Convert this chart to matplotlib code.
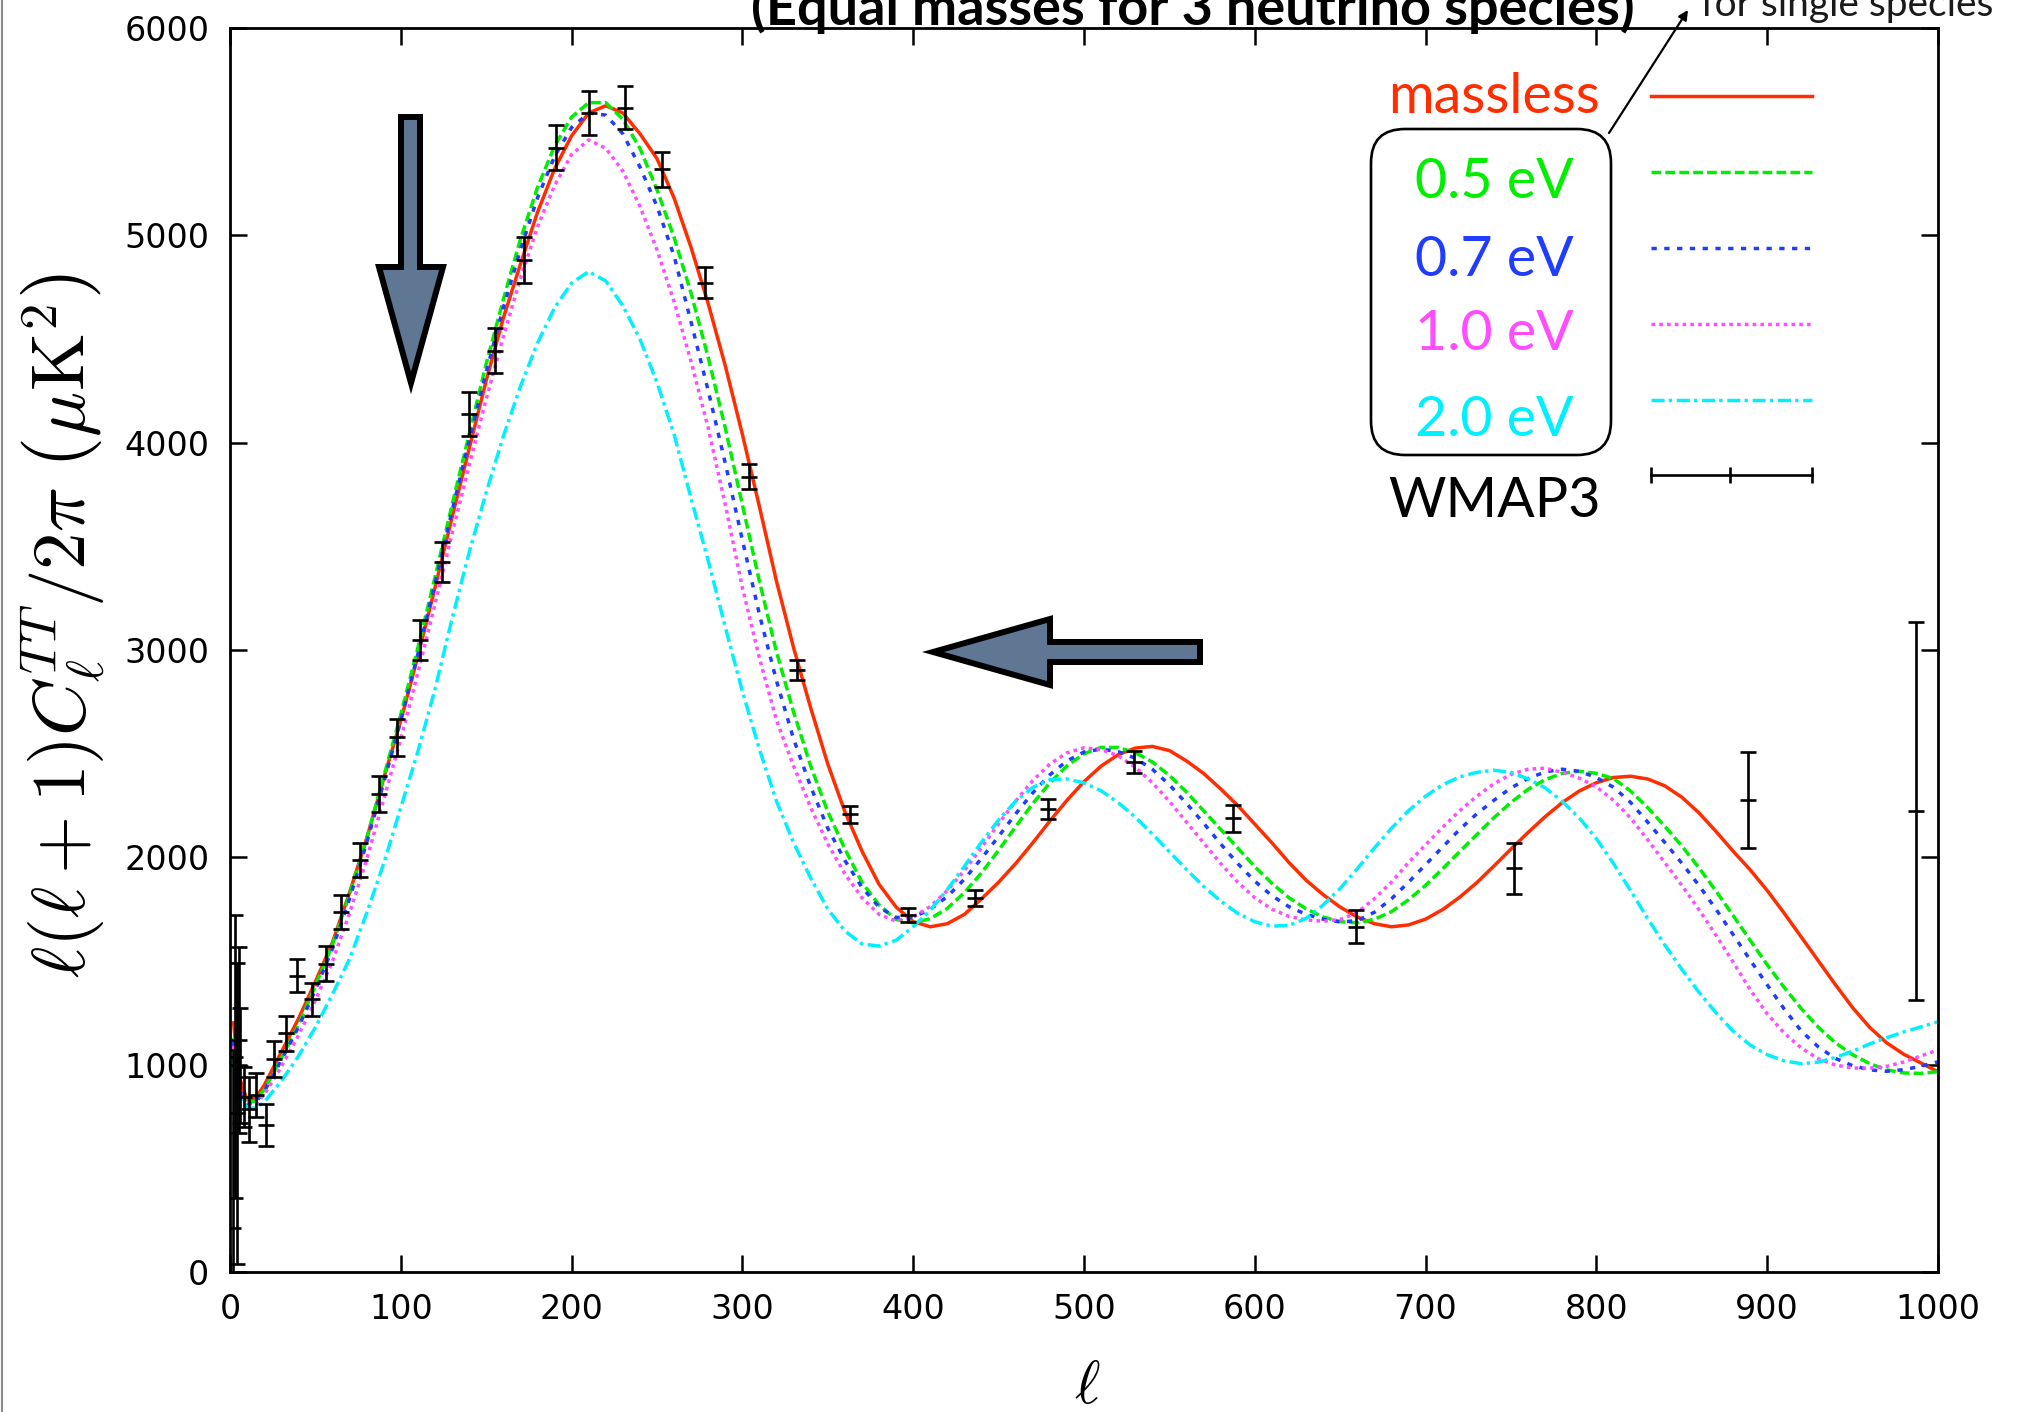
import matplotlib
matplotlib.use("Agg")
import matplotlib.pyplot as plt
from matplotlib.patches import Polygon, FancyBboxPatch
from matplotlib.lines import Line2D

plt.rcParams['mathtext.fontset'] = 'cm'
plt.rcParams['lines.scale_dashes'] = False

# multipole grid the model spectra are sampled on
ell = [2, 5, 10, 15, 20] + list(range(30, 1001, 10))

cl_massless = [1210, 950, 830, 840, 900,
               1060, 1220, 1400, 1590, 1830, 2090, 2380, 2660, 2970, 3300,
               3640, 3970, 4300, 4600, 4860, 5110, 5320, 5480, 5590, 5625,
               5590, 5490, 5370, 5180, 4940, 4670, 4370, 4040, 3690, 3330,
               3010, 2720, 2450, 2220, 2030, 1870, 1760, 1690, 1665, 1680,
               1725, 1800, 1880, 1970, 2070, 2175, 2275, 2365, 2440, 2495,
               2527, 2535, 2515, 2465, 2405, 2330, 2250, 2160, 2070, 1975,
               1890, 1820, 1760, 1712, 1680, 1665, 1674, 1702, 1748, 1808,
               1878, 1958, 2040, 2120, 2196, 2264, 2320, 2360, 2385, 2391,
               2378, 2345, 2290, 2215, 2125, 2030, 1940, 1840, 1730, 1615,
               1500, 1385, 1275, 1180, 1105, 1050, 1008, 966]
cl_05 = [1130, 900, 815, 825, 880,
         1030, 1190, 1380, 1580, 1820, 2090, 2390, 2690, 3010, 3350,
         3700, 4040, 4380, 4690, 4980, 5230, 5430, 5570, 5640, 5640,
         5560, 5420, 5220, 4990, 4720, 4410, 4070, 3700, 3330, 2990,
         2700, 2440, 2220, 2040, 1880, 1770, 1700, 1684, 1704, 1754,
         1830, 1925, 2034, 2148, 2259, 2359, 2441, 2500, 2530, 2530,
         2505, 2460, 2395, 2315, 2225, 2135, 2045, 1955, 1875, 1805,
         1752, 1712, 1690, 1684, 1701, 1738, 1795, 1865, 1945, 2028,
         2110, 2191, 2265, 2328, 2375, 2405, 2415, 2405, 2380, 2320,
         2240, 2150, 2055, 1950, 1838, 1720, 1600, 1482, 1372, 1270,
         1180, 1105, 1048, 1005, 975, 960, 958, 966]
cl_07 = [1110, 890, 810, 820, 870,
         1020, 1180, 1360, 1560, 1800, 2070, 2360, 2660, 2980, 3320,
         3670, 4010, 4340, 4650, 4930, 5180, 5380, 5520, 5590, 5580,
         5490, 5330, 5140, 4900, 4580, 4250, 3900, 3530, 3170, 2850,
         2570, 2340, 2140, 1985, 1855, 1760, 1710, 1712, 1749, 1811,
         1895, 1995, 2101, 2210, 2311, 2398, 2465, 2508, 2522, 2510,
         2478, 2425, 2350, 2260, 2165, 2065, 1970, 1885, 1815, 1762,
         1725, 1702, 1688, 1695, 1735, 1800, 1880, 1965, 2050, 2135,
         2210, 2275, 2335, 2380, 2412, 2425, 2415, 2385, 2338, 2265,
         2170, 2072, 1972, 1865, 1750, 1628, 1505, 1385, 1268, 1162,
         1085, 1030, 995, 975, 968, 976, 992, 1014]
cl_10 = [1090, 880, 805, 810, 855,
         990, 1140, 1310, 1500, 1730, 1990, 2280, 2570, 2890, 3220,
         3560, 3890, 4210, 4510, 4790, 5040, 5240, 5390, 5460, 5420,
         5310, 5140, 4930, 4680, 4390, 4070, 3700, 3300, 2960, 2660,
         2440, 2240, 2065, 1920, 1805, 1725, 1692, 1712, 1763, 1840,
         1937, 2047, 2162, 2272, 2370, 2450, 2504, 2528, 2520, 2490,
         2435, 2360, 2270, 2170, 2070, 1970, 1880, 1805, 1750, 1715,
         1698, 1692, 1700, 1735, 1800, 1880, 1975, 2060, 2145, 2225,
         2295, 2355, 2400, 2425, 2430, 2410, 2382, 2340, 2275, 2190,
         2085, 1975, 1865, 1748, 1625, 1495, 1362, 1245, 1152, 1080,
         1028, 998, 984, 983, 992, 1013, 1042, 1071]
cl_20 = [1040, 860, 790, 790, 820,
         920, 1040, 1180, 1340, 1510, 1730, 1970, 2240, 2510, 2810,
         3150, 3470, 3760, 4030, 4270, 4480, 4650, 4770, 4825, 4780,
         4660, 4500, 4290, 4040, 3730, 3430, 3110, 2800, 2520, 2270,
         2070, 1900, 1750, 1645, 1582, 1572, 1600, 1665, 1745, 1845,
         1957, 2073, 2180, 2271, 2337, 2374, 2378, 2359, 2321, 2264,
         2194, 2113, 2027, 1941, 1860, 1789, 1730, 1689, 1668, 1672,
         1705, 1770, 1850, 1945, 2045, 2140, 2225, 2295, 2350, 2388,
         2410, 2420, 2410, 2378, 2335, 2270, 2190, 2090, 1970, 1840,
         1705, 1578, 1460, 1350, 1250, 1162, 1095, 1048, 1018, 1005,
         1012, 1035, 1065, 1100, 1130, 1158, 1182, 1207]

# WMAP 3-year binned TT band powers
wmap_l = [2, 3, 4, 5, 6, 8, 11, 15, 21, 26, 33, 39, 48, 56, 65, 76, 87, 98, 111, 124,
          140, 155, 172, 191, 210, 231, 253, 278, 304, 332, 363, 397, 436, 479, 529, 587,
          659, 752, 889, 987]
wmap_v = [211, 1039, 765, 1119, 995, 845, 785, 854, 709, 1027, 1151, 1429, 1316, 1486,
          1736, 1987, 2305, 2579, 3048, 3426, 4137, 4444, 4881, 5423, 5589, 5616, 5318,
          4772, 3836, 2904, 2207, 1722, 1802, 2232, 2461, 2188, 1666, 1947, 2277, 2223]
wmap_err = [860, 683, 725, 450, 278, 145, 157, 105, 100, 88, 85, 79, 80, 84, 82, 80, 86,
            90, 95, 96, 106, 109, 109, 110, 107, 102, 86, 74, 59, 47, 39, 36, 39, 47, 52,
            64, 80, 124, 233, 910]

labels = ['massless', '0.5 eV', '0.7 eV', '1.0 eV', '2.0 eV']
colors = ['#ff2d00', '#00ee00', '#1f3cff', '#ff4dff', '#00f0ff']
dashes = [None, (7.0, 3.0), (3.8, 5.4), (2.6, 3.0), (9.4, 3.0, 2.4, 3.4)]
spectra = [cl_massless, cl_05, cl_07, cl_10, cl_20]
LW = 2.5

W, H = 2021, 1412
fig = plt.figure(figsize=(W / 100, H / 100), dpi=100)
ax = fig.add_axes([230 / W, 1 - 1272 / H, 1708 / W, 1244 / H])


def inch(x, y):
    # pixel position (from top-left) -> inches for dpi_scale_trans
    return (x / 100, (H - y) / 100)


for vals, col, dsh in zip(spectra, colors, dashes):
    if dsh is None:
        ax.plot(ell, vals, color=col, lw=LW, solid_capstyle='butt')
    else:
        ax.plot(ell, vals, color=col, lw=LW, dashes=dsh, dash_capstyle='butt')

ax.errorbar(wmap_l, wmap_v, yerr=wmap_err, fmt='none', ecolor='k', elinewidth=1.9,
            capsize=5.8, capthick=1.9, zorder=5)
ax.plot(wmap_l, wmap_v, ls='none', marker='_', ms=11.5, mew=1.9, color='k', zorder=5)

ax.set_xlim(0, 1000)
ax.set_ylim(0, 6000)
ax.set_xticks(range(0, 1001, 100))
ax.set_yticks(range(0, 6001, 1000))
ax.tick_params(direction='in', length=12, width=1.8, top=True, right=True,
               labelsize=24, pad=15)
for s in ax.spines.values():
    s.set_linewidth(2.0)

# legend: coloured labels on the left, line samples on the right
text_y = [0.932, 0.863, 0.801, 0.741, 0.672]
line_y = [0.945, 0.884, 0.823, 0.762, 0.701]
for lab, col, dsh, ty, ly in zip(labels, colors, dashes, text_y, line_y):
    ax.text(0.740, ty, lab, transform=ax.transAxes, ha='center', va='baseline',
            fontsize=40, family='Lato', color=col)
    kw = dict(transform=ax.transAxes, color=col, lw=LW, clip_on=False)
    if dsh is None:
        ax.plot([0.832, 0.926], [ly, ly], **kw)
    else:
        ax.plot([0.832, 0.926], [ly, ly], dashes=dsh, **kw)
ax.text(0.740, 0.607, 'WMAP3', transform=ax.transAxes, ha='center', va='baseline',
        fontsize=40, family='Lato', color='k')
ax.plot([0.832, 0.926], [0.641, 0.641], transform=ax.transAxes, color='k', lw=1.9,
        clip_on=False)
ax.plot([0.832, 0.878, 0.926], [0.641] * 3, transform=ax.transAxes, ls='none',
        marker='|', ms=11.5, mew=1.9, color='k', clip_on=False)

# rounded frame around the massive-neutrino entries
x0, y0 = inch(1371, 455)
box = FancyBboxPatch((x0, y0), 2.40, 3.26, boxstyle='round,pad=0,rounding_size=0.34',
                     transform=fig.dpi_scale_trans, fill=False, ec='k', lw=1.9)
fig.add_artist(box)

# block arrows showing the shift of the spectrum
arrow_col = '#5f7792'
down = [(401, 117), (420, 117), (420, 267), (443, 267), (411, 383), (379, 267), (401, 267)]
left = [(933, 652), (1050, 619), (1050, 642), (1200, 642), (1200, 662), (1050, 662),
        (1050, 685)]
for shape in (down, left):
    poly = Polygon([inch(x, y) for x, y in shape], closed=True, transform=fig.dpi_scale_trans,
                   fc=arrow_col, ec='k', lw=4.3, joinstyle='miter')
    fig.add_artist(poly)

# axis titles
fig.text(64 / W, 1 - 625 / H,
         r'$\ell(\ell+1)C_\ell^{TT}/2\pi\ \left(\mu\mathrm{K}^2\right)$',
         rotation=90, ha='center', va='center', fontsize=54)
fig.text(1087 / W, 1 - 1386 / H, r'$\ell$', ha='center', va='center', fontsize=44)

# header text and pointer
fig.text(1193 / W, 1 - 25 / H, '(Equal masses for 3 neutrino species)', ha='center',
         va='baseline', fontsize=39, family='Lato', weight='bold')
fig.text(1701 / W, 1 - 16 / H, 'for single species', ha='left', va='baseline',
         fontsize=28, family='Lato', color='#1a1a1a')
ax.annotate('', xy=(1688 / W, 1 - 10 / H), xycoords='figure fraction',
            xytext=(1609 / W, 1 - 133 / H), textcoords='figure fraction',
            arrowprops=dict(arrowstyle='-|>', color='k', lw=1.6, mutation_scale=14,
                            shrinkA=0, shrinkB=0))

fig.add_artist(Line2D([1.5 / W, 1.5 / W], [0, 1], transform=fig.transFigure,
                      color='#8a8a8a', lw=1.5))

fig.savefig('out.png', dpi=100)
